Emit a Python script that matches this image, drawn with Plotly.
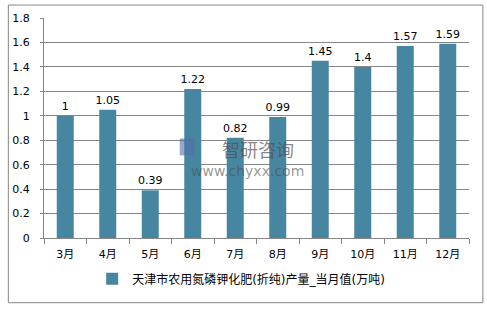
import plotly.graph_objects as go

categories = ["3月", "4月", "5月", "6月", "7月", "8月", "9月", "10月", "11月", "12月"]
values = [1, 1.05, 0.39, 1.22, 0.82, 0.99, 1.45, 1.4, 1.57, 1.59]
labels = ["1", "1.05", "0.39", "1.22", "0.82", "0.99", "1.45", "1.4", "1.57", "1.59"]
series_name = "天津市农用氮磷钾化肥(折纯)产量_当月值(万吨)"
y_ticks = [0, 0.2, 0.4, 0.6, 0.8, 1, 1.2, 1.4, 1.6, 1.8]
y_tick_text = ["0", "0.2", "0.4", "0.6", "0.8", "1", "1.2", "1.4", "1.6", "1.8"]

FONT = "DejaVu Sans, Noto Sans CJK SC, sans-serif"
W, H = 487, 309
L, R, T, B = 40, 18, 17, 71
pw, ph = W - L - R, H - T - B

def px_x(p):
    return (p - L) / pw

def px_y(p):
    return (H - B - p) / ph

fig = go.Figure()
fig.add_trace(go.Bar(
    x=categories, y=values, name=series_name,
    text=labels, textposition="outside", cliponaxis=False,
    constraintext="none",
    textfont=dict(size=11, color="#000000", family=FONT),
    marker=dict(color="#4686a1", line=dict(width=0)),
    width=0.4, showlegend=True,
))

fig.update_layout(
    width=W, height=H,
    margin=dict(l=L, r=R, t=T, b=B),
    paper_bgcolor="white", plot_bgcolor="white",
    font=dict(family=FONT, size=11, color="#000000"),
    xaxis=dict(
        showline=True, linecolor="#868686", linewidth=1,
        ticks="outside", tickson="boundaries", ticklen=5, tickcolor="#868686",
        tickfont=dict(size=11, family=FONT), showgrid=False,
        ticklabelstandoff=6,
    ),
    yaxis=dict(
        range=[0, 1.8], tickvals=y_ticks, ticktext=y_tick_text,
        showline=True, linecolor="#868686", linewidth=1,
        ticks="outside", ticklen=3, tickcolor="#868686",
        showgrid=True, gridcolor="#868686", gridwidth=1,
        zeroline=False, tickfont=dict(size=11, family=FONT),
        ticklabelstandoff=8,
    ),
    legend=dict(
        orientation="h", x=px_x(239), xanchor="center",
        y=px_y(279), yanchor="middle",
        font=dict(size=12, family=FONT, color="#000000"),
        itemwidth=30, bgcolor="rgba(0,0,0,0)",
    ),
    showlegend=True,
)

# outer chart border
fig.add_shape(type="rect", xref="paper", yref="paper",
              x0=px_x(4), x1=px_x(483), y0=px_y(303), y1=px_y(4),
              line=dict(color="#868686", width=1), fillcolor="rgba(0,0,0,0)", layer="below")

# watermark
fig.add_shape(type="rect", xref="paper", yref="paper",
              x0=px_x(177), x1=px_x(192), y0=px_y(155), y1=px_y(138),
              line=dict(width=0), fillcolor="rgba(80,110,170,0.6)", layer="above")
fig.add_annotation(x=px_x(256), y=px_y(149), xref="paper", yref="paper",
                   xanchor="center", yanchor="middle",
                   text="智研咨询", showarrow=False,
                   font=dict(size=18, family="Noto Sans CJK SC", color="rgba(80,80,80,0.7)"))
fig.add_annotation(x=px_x(245), y=px_y(171), xref="paper", yref="paper",
                   xanchor="center", yanchor="middle",
                   text="www.chyxx.com", showarrow=False,
                   font=dict(size=14, family="DejaVu Sans", color="rgba(80,80,80,0.6)"))

fig.write_html("out.html")
